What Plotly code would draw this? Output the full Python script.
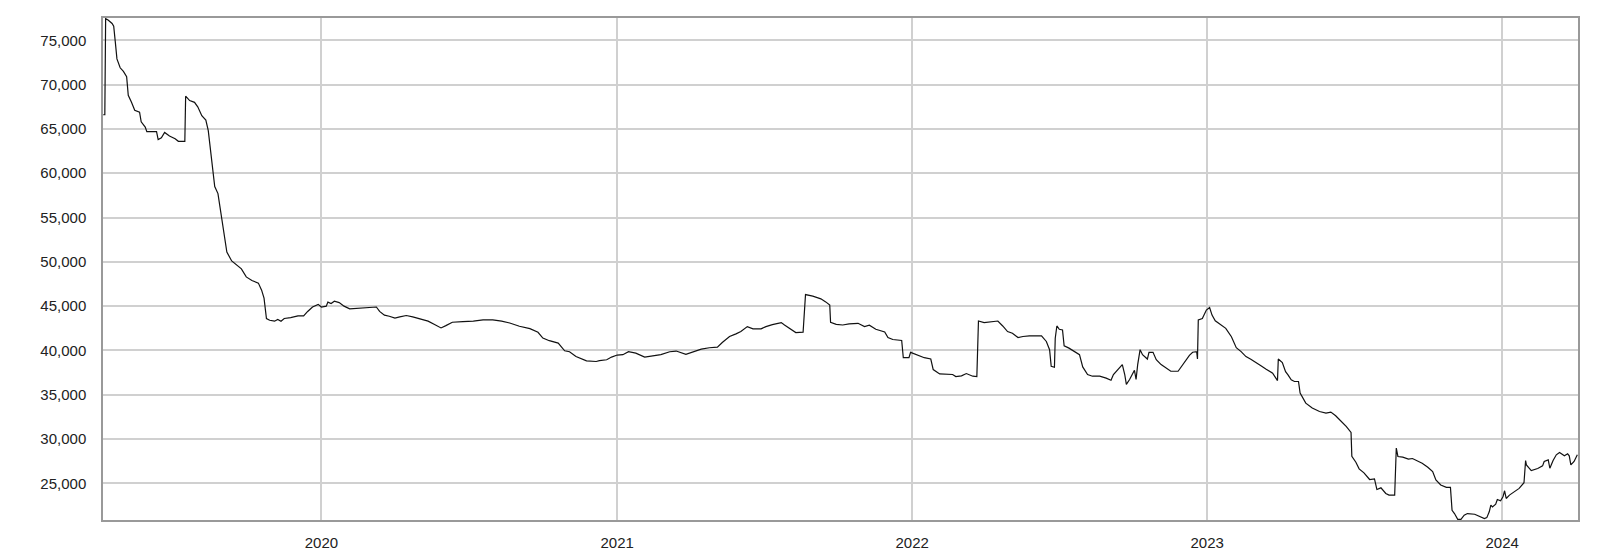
import plotly.graph_objects as go

dates = [
    "2019-04-06", "2019-04-08", "2019-04-09", "2019-04-12", "2019-04-17", "2019-04-19", "2019-04-21", "2019-04-23",
    "2019-04-27", "2019-05-01", "2019-05-05", "2019-05-07", "2019-05-11", "2019-05-15", "2019-05-21", "2019-05-23",
    "2019-05-28", "2019-05-30", "2019-06-11", "2019-06-13", "2019-06-17", "2019-06-21", "2019-06-27", "2019-07-04",
    "2019-07-08", "2019-07-16", "2019-07-17", "2019-07-22", "2019-07-28", "2019-08-01", "2019-08-06", "2019-08-11",
    "2019-08-14", "2019-08-18", "2019-08-22", "2019-08-26", "2019-08-29", "2019-09-01", "2019-09-06", "2019-09-12",
    "2019-09-18", "2019-09-24", "2019-09-30", "2019-10-07", "2019-10-15", "2019-10-19", "2019-10-22", "2019-10-24",
    "2019-10-25", "2019-10-29", "2019-11-04", "2019-11-08", "2019-11-12", "2019-11-16", "2019-11-24", "2019-12-03",
    "2019-12-10", "2019-12-15", "2019-12-21", "2019-12-28",
    "2020-01-01", "2020-01-07", "2020-01-09", "2020-01-13", "2020-01-17", "2020-01-23", "2020-01-29", "2020-02-05",
    "2020-02-17", "2020-02-27", "2020-03-09", "2020-03-13", "2020-03-19", "2020-03-25", "2020-04-01", "2020-04-07",
    "2020-04-15", "2020-04-23", "2020-05-02", "2020-05-12", "2020-05-20", "2020-05-28", "2020-06-03", "2020-06-11",
    "2020-06-24", "2020-07-07", "2020-07-19", "2020-07-31", "2020-08-11", "2020-08-21", "2020-09-02", "2020-09-15",
    "2020-09-25", "2020-10-01", "2020-10-09", "2020-10-20", "2020-10-28", "2020-11-03", "2020-11-11", "2020-11-24",
    "2020-12-06", "2020-12-10", "2020-12-19", "2020-12-25",
    "2021-01-01", "2021-01-08", "2021-01-15", "2021-01-24", "2021-02-04", "2021-02-14", "2021-02-24", "2021-03-07",
    "2021-03-15", "2021-03-27", "2021-04-06", "2021-04-15", "2021-04-25", "2021-05-05", "2021-05-11", "2021-05-20",
    "2021-05-28", "2021-06-03", "2021-06-11", "2021-06-18", "2021-06-28", "2021-07-04", "2021-07-12", "2021-07-23",
    "2021-07-27", "2021-08-04", "2021-08-10", "2021-08-19", "2021-08-22", "2021-08-31", "2021-09-10", "2021-09-16",
    "2021-09-21", "2021-09-22", "2021-09-29", "2021-10-07", "2021-10-15", "2021-10-26", "2021-11-03", "2021-11-09",
    "2021-11-17", "2021-11-28", "2021-12-02", "2021-12-08", "2021-12-16", "2021-12-19", "2021-12-21", "2021-12-28",
    "2021-12-30",
    "2022-01-06", "2022-01-16", "2022-01-24", "2022-01-27", "2022-02-04", "2022-02-14", "2022-02-20", "2022-02-24",
    "2022-03-03", "2022-03-09", "2022-03-17", "2022-03-22", "2022-03-24", "2022-03-31", "2022-04-09", "2022-04-17",
    "2022-04-23", "2022-04-29", "2022-05-05", "2022-05-12", "2022-05-18", "2022-05-26", "2022-06-10", "2022-06-16",
    "2022-06-20", "2022-06-22", "2022-06-26", "2022-06-27", "2022-06-29", "2022-07-02", "2022-07-06", "2022-07-08",
    "2022-07-14", "2022-07-21", "2022-07-27", "2022-07-31", "2022-08-06", "2022-08-12", "2022-08-21", "2022-08-29",
    "2022-09-04", "2022-09-07", "2022-09-12", "2022-09-18", "2022-09-21", "2022-09-23", "2022-09-27", "2022-10-03",
    "2022-10-05", "2022-10-07", "2022-10-10", "2022-10-13", "2022-10-19", "2022-10-21", "2022-10-26", "2022-10-30",
    "2022-11-05", "2022-11-11", "2022-11-17", "2022-11-26", "2022-12-02", "2022-12-10", "2022-12-14", "2022-12-19",
    "2022-12-20", "2022-12-21", "2022-12-26", "2022-12-31",
    "2023-01-04", "2023-01-07", "2023-01-11", "2023-01-18", "2023-01-24", "2023-01-31", "2023-02-06", "2023-02-12",
    "2023-02-18", "2023-02-24", "2023-03-03", "2023-03-09", "2023-03-15", "2023-03-23", "2023-03-29", "2023-03-30",
    "2023-04-04", "2023-04-08", "2023-04-11", "2023-04-15", "2023-04-19", "2023-04-24", "2023-04-26", "2023-05-03",
    "2023-05-11", "2023-05-20", "2023-05-28", "2023-06-03", "2023-06-09", "2023-06-16", "2023-06-22", "2023-06-28",
    "2023-06-29", "2023-07-04", "2023-07-08", "2023-07-14", "2023-07-21", "2023-07-27", "2023-07-30", "2023-08-04",
    "2023-08-10", "2023-08-14", "2023-08-21", "2023-08-23", "2023-08-25", "2023-08-31", "2023-09-07", "2023-09-12",
    "2023-09-18", "2023-09-24", "2023-10-01", "2023-10-07", "2023-10-11", "2023-10-17", "2023-10-24", "2023-10-29",
    "2023-10-31", "2023-11-03", "2023-11-07", "2023-11-11", "2023-11-15", "2023-11-19", "2023-11-28", "2023-12-04",
    "2023-12-10", "2023-12-13", "2023-12-16", "2023-12-18", "2023-12-20", "2023-12-24", "2023-12-26", "2023-12-30",
    "2024-01-02", "2024-01-04", "2024-01-06", "2024-01-10", "2024-01-16", "2024-01-22", "2024-01-28", "2024-01-30",
    "2024-01-31", "2024-02-06", "2024-02-14", "2024-02-20", "2024-02-22", "2024-02-27", "2024-02-29", "2024-03-04",
    "2024-03-08", "2024-03-12", "2024-03-18", "2024-03-22", "2024-03-24", "2024-03-26", "2024-03-30", "2024-04-03",
]

values = [
    66600, 66600, 77450, 77300, 76900, 76600, 74800, 72900,
    71900, 71500, 70900, 68800, 68000, 67100, 66900, 65800,
    65200, 64700, 64700, 63800, 64000, 64600, 64200, 63900,
    63600, 63600, 68700, 68200, 68000, 67500, 66500, 66000,
    64800, 61600, 58500, 57700, 56000, 53800, 51100, 50100,
    49600, 49200, 48300, 47900, 47600, 46800, 45900, 44700,
    43600, 43400, 43300, 43500, 43300, 43600, 43700, 43900,
    43900, 44400, 44900, 45200,
    44900, 45000, 45450, 45300, 45550, 45400, 45000, 44700,
    44770, 44800, 44900, 44400, 43980, 43860, 43640, 43790,
    43940, 43790, 43560, 43300, 42920, 42540, 42800, 43180,
    43260, 43300, 43450, 43450, 43300, 43100, 42730, 42460,
    42050, 41400, 41100, 40830, 39960, 39850, 39320, 38820,
    38750, 38840, 38950, 39250,
    39480, 39520, 39850, 39700, 39250, 39400, 39520, 39850,
    39930, 39550, 39850, 40150, 40300, 40380, 40900, 41570,
    41870, 42130, 42690, 42430, 42430, 42690, 42910, 43140,
    42870, 42390, 42020, 42060, 46300, 46120, 45820, 45480,
    45110, 43170, 42950, 42870, 42990, 43060, 42690, 42840,
    42390, 42090, 41460, 41230, 41120, 41120, 39180, 39180,
    39780,
    39520, 39180, 39030, 37840, 37350, 37350, 37280, 37050,
    37130, 37390, 37090, 37050, 43320, 43140, 43250, 43320,
    42760, 42130, 41940, 41460, 41570, 41640, 41640, 41010,
    40080, 38210, 38100, 41380, 42760, 42390, 42310, 40520,
    40260, 39890, 39520, 38140, 37280, 37090, 37090, 36870,
    36640, 37280, 37760, 38400, 37280, 36160, 36720, 37760,
    36720, 38400, 40080, 39520, 39030, 39780, 39780, 38960,
    38400, 38030, 37650, 37650, 38400, 39450, 39790, 39860,
    39040, 43430, 43610, 44550,
    44850, 43990, 43350, 42860, 42490, 41550, 40310, 39860,
    39300, 39000, 38630, 38250, 37880, 37430, 36600, 39040,
    38630, 37610, 37240, 36680, 36490, 36490, 35180, 34050,
    33490, 33110, 32930, 33040, 32630, 31990, 31430, 30750,
    28050, 27380, 26630, 26180, 25430, 25500, 24300, 24490,
    23850, 23670, 23670, 28980, 28030, 27950, 27730, 27800,
    27540, 27270, 26820, 26320, 25380, 24810, 24540, 24540,
    21960, 21590, 20940, 20940, 21400, 21590, 21510, 21280,
    21020, 21130, 21780, 22530, 22340, 22650, 23180, 23030,
    23480, 24160, 23290, 23670, 24050, 24430, 25070, 27570,
    27080, 26440, 26670, 26970, 27460, 27650, 26700, 27570,
    28220, 28480, 28100, 28330, 28100, 27080, 27460, 28220,
]

y_ticks = [25000, 30000, 35000, 40000, 45000, 50000, 55000, 60000, 65000, 70000, 75000]
x_range = ["2019-04-05 18:00", "2024-04-03 20:00"]
y_range = [20860, 77520]

fig = go.Figure()
fig.add_trace(go.Scatter(
    x=dates, y=values, mode="lines",
    line=dict(color="#111111", width=1.2),
    hoverinfo="x+y", showlegend=False,
))

# the page body has an 8px default margin, so the figure is offset by 8px
fig.update_layout(
    width=1592, height=548,
    margin=dict(l=95, r=22, t=10, b=36, autoexpand=False),
    paper_bgcolor="white", plot_bgcolor="white",
    font=dict(family="Liberation Sans, Arial, sans-serif", size=15, color="#222222"),
    showlegend=False,
)
fig.update_xaxes(
    type="date", range=x_range, automargin=False,
    dtick="M12", tick0="2020-01-01", tickformat="%Y",
    showgrid=True, gridcolor="#d0d0d0", gridwidth=1.5,
    showline=True, linecolor="#999999", linewidth=1.5, mirror=True,
    ticks="", ticklabelstandoff=8, zeroline=False,
)
fig.update_yaxes(
    range=y_range, tickvals=y_ticks, tickformat=",d", automargin=False,
    showgrid=True, gridcolor="#d0d0d0", gridwidth=1.5,
    showline=True, linecolor="#999999", linewidth=1.5, mirror=True,
    ticks="", ticklabelstandoff=12, zeroline=False,
)

fig.write_html("out.html")
